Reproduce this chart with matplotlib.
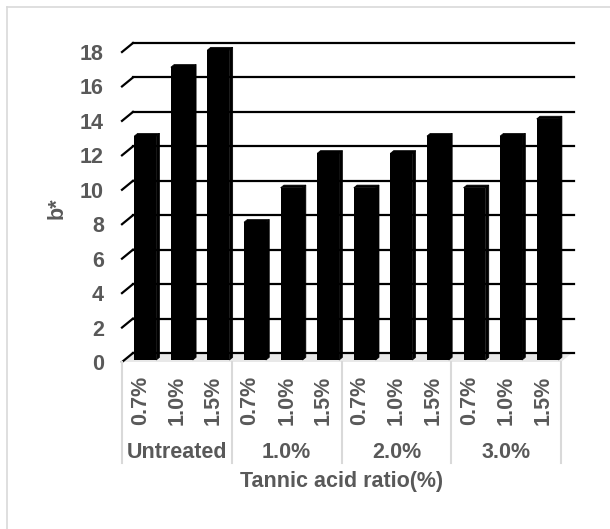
import matplotlib.pyplot as plt
from matplotlib.patches import Polygon
from matplotlib.lines import Line2D
import matplotlib.transforms as mtransforms

groups = ["Untreated", "1.0%", "2.0%", "3.0%"]
ratios = ["0.7%", "1.0%", "1.5%"]
b_star = [13, 17, 18, 8, 10, 12, 10, 12, 13, 10, 13, 14]
y_ticks = list(range(0, 19, 2))

plt.rcParams['font.family'] = ['Liberation Sans', 'DejaVu Sans']
txt = '#595959'
fs = 15.5

W, H = 610, 529
fig = plt.figure(figsize=(W / 100, H / 100), dpi=100)

# front plane of the 3-D box
left_px, right_px, top_px, bot_px = 122, 561, 52, 362
ax = fig.add_axes([left_px / W, 1 - bot_px / H,
                   (right_px - left_px) / W, (bot_px - top_px) / H])
n = len(b_star)
ax.set_xlim(-0.5, n - 0.5)
ax.set_ylim(0, 18)
for s in ax.spines.values():
    s.set_visible(False)

# depth offset of the back wall in data units (11 px right, 9 px up)
dx = 11 / ((right_px - left_px) / n)
dy = 9 / ((bot_px - top_px) / 18)

# floor
ax.add_patch(Polygon([(-0.5, 0), (n - 0.5, 0), (n - 0.5 + dx, dy), (-0.5 + dx, dy)],
                     closed=True, facecolor='#e8e8e8', edgecolor='none',
                     zorder=1, clip_on=False))

# back wall gridlines and left wall diagonals
for v in y_ticks:
    ax.add_line(Line2D([-0.5 + dx, n - 0.5 + dx + 0.05], [v + dy, v + dy],
                       color='black', lw=1.6, zorder=2, clip_on=False))
    ax.add_line(Line2D([-0.5, -0.5 + dx], [v, v + dy],
                       color='black', lw=1.6, zorder=2, clip_on=False))

# 3-D columns
bw = 0.6
fx, fy = 0.45 * dx, 0.22 * dy
bd_x, bd_y = 0.3 * dx, 0.3 * dy
for i, v in enumerate(b_star):
    x0 = i - bw / 2 + fx
    x1 = i + bw / 2 + fx
    ax.bar(i + fx, v, width=bw, bottom=fy, color='black', zorder=3, clip_on=False)
    top = v + fy
    ax.add_patch(Polygon([(x0, top), (x1, top), (x1 + bd_x, top + bd_y), (x0 + bd_x, top + bd_y)],
                         closed=True, facecolor='black', edgecolor='black', lw=0.5,
                         zorder=3, clip_on=False))
    ax.add_patch(Polygon([(x1, fy), (x1 + bd_x, fy + bd_y), (x1 + bd_x, top + bd_y), (x1, top)],
                         closed=True, facecolor='black', edgecolor='black', lw=0.5,
                         zorder=3, clip_on=False))

# axis labels
ax.set_yticks(y_ticks)
ax.set_yticklabels([str(v) for v in y_ticks], fontsize=fs, fontweight='bold', color=txt)
ax.tick_params(axis='y', length=0, pad=13)
ax.set_xticks(range(n))
ax.set_xticklabels(ratios * len(groups), rotation=90, fontsize=fs,
                   fontweight='bold', color=txt)
ax.tick_params(axis='x', length=0, pad=10)

# group labels and separators below the axis
blend = mtransforms.blended_transform_factory(ax.transData, fig.transFigure)
for g, name in enumerate(groups):
    ax.text(g * 3 + 1, 1 - 453 / H, name, transform=blend, ha='center', va='center',
            fontsize=fs, fontweight='bold', color=txt)
for g in range(len(groups) + 1):
    xb = g * 3 - 0.5
    ax.add_line(Line2D([xb, xb], [1 - 362 / H, 1 - 463 / H], transform=blend,
                       color='#d9d9d9', lw=1.5, clip_on=False))

fig.text(342 / W, 1 - 482 / H, "Tannic acid ratio(%)", ha='center', va='center',
         fontsize=fs, fontweight='bold', color=txt)
fig.text(57 / W, 1 - 208 / H, "b*", ha='center', va='center', rotation=90,
         fontsize=fs, fontweight='bold', color=txt)

# chart frame
fig.add_artist(Line2D([7 / W, 7 / W], [1 - 7 / H, 0], transform=fig.transFigure,
                      color='#d9d9d9', lw=1.2))
fig.add_artist(Line2D([7 / W, 1], [1 - 7 / H, 1 - 7 / H], transform=fig.transFigure,
                      color='#d9d9d9', lw=1.2))

fig.savefig('out.png', dpi=100)
